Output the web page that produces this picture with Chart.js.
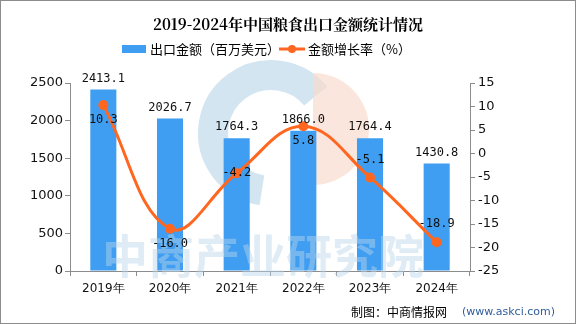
<!DOCTYPE html>
<html>
<head>
<meta charset="utf-8">
<script src="https://cdn.jsdelivr.net/npm/chart.js@4"></script>
<style>
  html, body { margin: 0; padding: 0; background: #fff; }
  #wrap { width: 576px; height: 324px; position: relative; box-sizing: border-box; border: 1px solid #8c8c8c; }
</style>
</head>
<body>
<div id="wrap"><canvas id="grafico" width="574" height="322"></canvas></div>
<script>
const years = ["2019年", "2020年", "2021年", "2022年", "2023年", "2024年"];
const exportAmount = [2413.1, 2026.7, 1764.3, 1866.0, 1764.4, 1430.8];
const growthRate = [10.3, -16.0, -4.2, 5.8, -5.1, -18.9];
const leftTicks = [0, 500, 1000, 1500, 2000, 2500];
const rightTicks = [-25, -20, -15, -10, -5, 0, 5, 10, 15];

const azul = "#3f9ef2";
const naranja = "#ff6720";

// donde va la etiqueta de cada punto de la linea
const posEtiqueta = ["below", "below", "center", "below", "above", "above"];

const decoracion = {
  id: "decoracion",
  beforeDatasetsDraw(chart) {
    const ctx = chart.ctx;
    ctx.save();
    // logo de fondo
    ctx.lineWidth = 30;
    ctx.strokeStyle = "rgba(200,222,236,0.8)";
    ctx.beginPath();
    ctx.arc(270, 132, 58, Math.PI * 0.55, Math.PI * 1.78);
    ctx.stroke();
    ctx.fillStyle = "rgba(250,220,206,0.7)";
    ctx.beginPath();
    ctx.arc(312, 128, 56, -Math.PI * 0.5, Math.PI * 0.5);
    ctx.lineTo(312, 72);
    ctx.fill();
    ctx.restore();
  },
  afterDatasetsDraw(chart) {
    const ctx = chart.ctx;
    ctx.save();
    // marca de agua
    ctx.fillStyle = "rgba(185,212,232,0.45)";
    ctx.font = "bold 46px 'Noto Sans CJK SC'";
    ctx.textAlign = "center";
    ctx.textBaseline = "middle";
    ctx.fillText("中商产业研究院", 262, 255);

    // etiquetas de las barras
    ctx.fillStyle = "#111";
    ctx.font = "12px 'DejaVu Sans Mono', monospace";
    chart.getDatasetMeta(0).data.forEach((bar, i) => {
      ctx.fillText(exportAmount[i].toFixed(1), bar.x, bar.y - 11);
    });
    // etiquetas de la linea
    chart.getDatasetMeta(1).data.forEach((pt, i) => {
      let dy = 0;
      if (posEtiqueta[i] === "below") dy = 15;
      if (posEtiqueta[i] === "above") dy = -18;
      ctx.fillText(growthRate[i].toFixed(1), pt.x, pt.y + dy);
    });

    // titulo
    ctx.fillStyle = "#000";
    ctx.font = "bold 15px 'Noto Serif CJK SC', 'Noto Sans CJK SC', serif";
    ctx.fillText("2019-2024年中国粮食出口金额统计情况", 287, 23);

    // leyenda
    ctx.font = "13px 'Noto Sans CJK SC'";
    ctx.textAlign = "left";
    ctx.fillStyle = azul;
    ctx.fillRect(121, 44, 24, 8);
    ctx.fillStyle = "#000";
    ctx.fillText("出口金额（百万美元）", 149, 48);
    ctx.strokeStyle = naranja;
    ctx.lineWidth = 3;
    ctx.beginPath();
    ctx.moveTo(278, 48);
    ctx.lineTo(304, 48);
    ctx.stroke();
    ctx.fillStyle = naranja;
    ctx.beginPath();
    ctx.arc(291, 48, 4, 0, Math.PI * 2);
    ctx.fill();
    ctx.fillStyle = "#000";
    ctx.fillText("金额增长率（%）", 307, 48);

    // fuente
    ctx.font = "12px 'Noto Sans CJK SC'";
    ctx.fillText("制图：中商情报网", 350, 311);
    ctx.fillStyle = "#2f5d9a";
    ctx.font = "11px 'DejaVu Sans'";
    ctx.fillText("(www.askci.com)", 461, 311);
    ctx.restore();
  }
};

const ticksFont = { family: "'DejaVu Sans', sans-serif", size: 12 };
const axisFont = { family: "'DejaVu Sans', sans-serif", size: 13 };

new Chart(document.getElementById("grafico"), {
  data: {
    labels: years,
    datasets: [
      {
        type: "bar",
        label: "出口金额（百万美元）",
        data: exportAmount,
        backgroundColor: azul,
        barPercentage: 0.85,
        categoryPercentage: 0.46,
        yAxisID: "y",
        order: 2
      },
      {
        type: "line",
        label: "金额增长率（%）",
        data: growthRate,
        borderColor: naranja,
        backgroundColor: naranja,
        borderWidth: 3,
        pointRadius: 5,
        pointBackgroundColor: naranja,
        pointBorderWidth: 0,
        tension: 0.4,
        yAxisID: "y1",
        order: 1
      }
    ]
  },
  options: {
    responsive: false,
    animation: false,
    layout: { padding: { top: 82, left: 0, right: 0, bottom: 0 } },
    plugins: {
      legend: { display: false },
      tooltip: { enabled: false },
      title: { display: false }
    },
    scales: {
      x: {
        grid: { display: true, drawOnChartArea: false, offset: true, tickLength: 5, color: "#8c8c8c" },
        border: { color: "#8c8c8c", width: 1 },
        ticks: { color: "#111", font: ticksFont, padding: 6, maxRotation: 0 },
        afterFit: s => { s.height = 52; }
      },
      y: {
        position: "left",
        min: 0,
        max: 2500,
        afterBuildTicks: s => { s.ticks = leftTicks.map(v => ({ value: v })); },
        grid: { display: true, drawOnChartArea: false, tickLength: 5, color: "#8c8c8c" },
        border: { color: "#8c8c8c", width: 1 },
        ticks: { color: "#111", font: axisFont, padding: 2, callback: v => String(v) },
        afterFit: s => { s.width = 69; }
      },
      y1: {
        position: "right",
        min: -25,
        max: 15,
        afterBuildTicks: s => { s.ticks = rightTicks.map(v => ({ value: v })); },
        grid: { display: true, drawOnChartArea: false, tickLength: 5, color: "#8c8c8c" },
        border: { color: "#8c8c8c", width: 1 },
        ticks: { color: "#111", font: axisFont, padding: 3, callback: v => String(v) },
        afterFit: s => { s.width = 105; }
      }
    }
  },
  plugins: [decoracion]
});
</script>
</body>
</html>
